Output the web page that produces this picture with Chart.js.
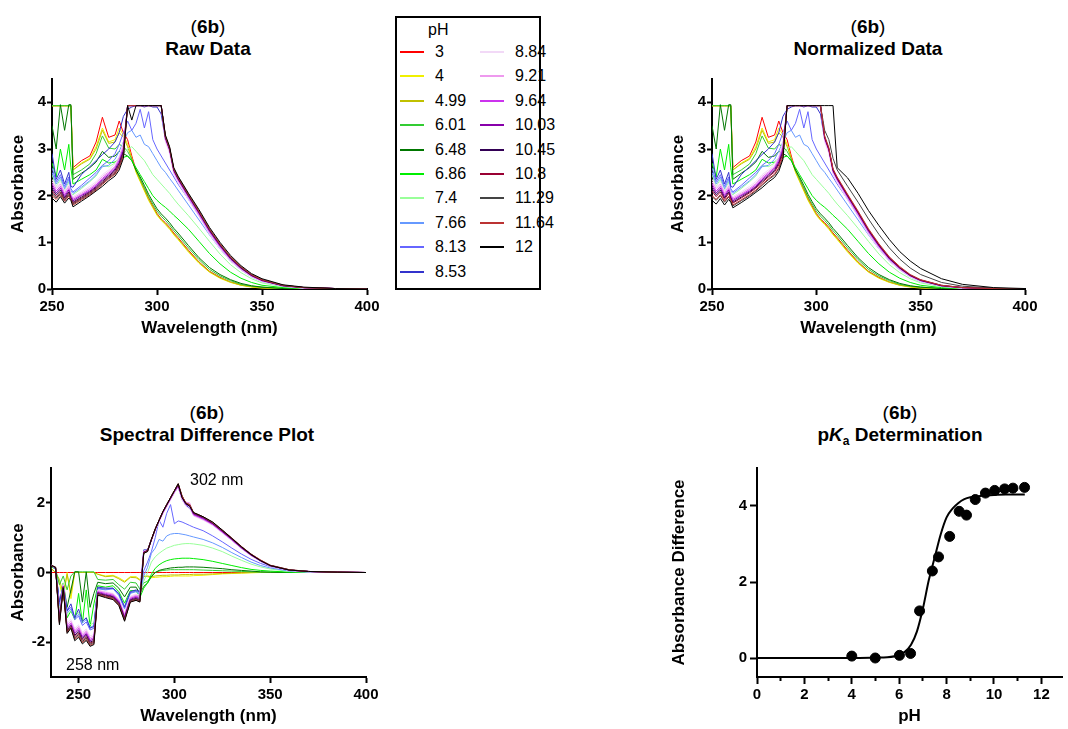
<!DOCTYPE html>
<html>
<head>
<meta charset="utf-8">
<title>6b spectra</title>
<script src="https://cdn.jsdelivr.net/npm/chart.js@4.4.1/dist/chart.umd.min.js"></script>
<style>
  html, body { margin: 0; padding: 0; background: #fff; }
  body { position: relative; width: 1068px; height: 729px; overflow: hidden;
         font-family: "Liberation Sans", Arial, sans-serif; color: #000; }
  .panel { position: absolute; }
  .ttl { position: absolute; width: 320px; margin-left: -160px; text-align: center;
         font-size: 19px; line-height: 22px; font-weight: bold; white-space: nowrap; }
  .ttl .n { font-weight: normal; }
  .note { position: absolute; font-size: 16px; white-space: nowrap; line-height: 18px; }
  #legend { position: absolute; left: 395px; top: 16px; width: 142px; height: 270px;
            border: 2px solid #000; font-size: 16px; }
  .lg-row { position: absolute; height: 20px; line-height: 20px; white-space: nowrap; }
  .lg-row i { position: absolute; left: 0; top: 9px; width: 24px; height: 0; border-top: 2px solid; }
  .lg-row span { position: absolute; left: 35px; }
</style>
</head>
<body>

<div class="ttl" style="left:208px;top:16px"><span class="n">(</span>6b<span class="n">)</span><br>Raw Data</div>
<div class="ttl" style="left:868px;top:16px"><span class="n">(</span>6b<span class="n">)</span><br>Normalized Data</div>
<div class="ttl" style="left:207px;top:402px"><span class="n">(</span>6b<span class="n">)</span><br>Spectral Difference Plot</div>
<div class="ttl" style="left:900px;top:402px"><span class="n">(</span>6b<span class="n">)</span><br>p<i>K</i><span style="font-size:12px;position:relative;top:4px">a</span> Determination</div>

<div id="legend"><div class="lg-row" style="left:31px;top:2px">pH</div></div>

<canvas id="raw" class="panel" width="392" height="279" style="left:0;top:60px"></canvas>
<canvas id="norm" class="panel" width="390" height="279" style="left:660px;top:60px"></canvas>
<canvas id="diff" class="panel" width="391" height="278" style="left:0;top:449px"></canvas>
<canvas id="pka" class="panel" width="408" height="278" style="left:660px;top:449px"></canvas>

<div class="note" style="left:190px;top:471px">302 nm</div>
<div class="note" style="left:66px;top:656px">258 nm</div>

<script>
// pH series
var phLabels = ['3', '4', '4.99', '6.01', '6.48', '6.86', '7.4', '7.66', '8.13', '8.53',
                '8.84', '9.21', '9.64', '10.03', '10.45', '10.8', '11.29', '11.64', '12'];
var phColors = ['#ff0000', '#f0f000', '#c0c000', '#33cc33', '#007700', '#00ee00', '#99ff99', '#6699ff', '#6666ff', '#3333cc',
                '#f2d9f7', '#ee99ee', '#cc33ee', '#8800aa', '#330055', '#990033', '#444444', '#bb3333', '#000000'];

// wavelengths (nm) for raw / normalized spectra
var wl = [250, 252, 254, 256, 258, 259, 260, 264, 268, 271, 274, 277, 280, 282, 284,
          286, 288, 290, 292, 294, 296, 298, 300, 302, 304, 306, 308, 310,
          315, 320, 325, 330, 335, 340, 345, 350, 360, 370, 385, 400];

// raw absorbance
var raw3 = [3.93, 3.93, 3.93, 3.93, 3.93, 3.93, 2.6, 2.75, 2.85, 3.15, 3.68, 3.25, 3.3, 3.6, 3.35,
            3.2, 2.85, 2.55, 2.35, 2.15, 1.95, 1.78, 1.62, 1.5, 1.42, 1.32, 1.2, 1.1,
            0.83, 0.58, 0.38, 0.25, 0.15, 0.09, 0.05, 0.03, 0.01, 0, 0, 0];
var raw4 = [3.93, 3.93, 3.93, 3.93, 3.93, 3.93, 2.55, 2.7, 2.8, 3.05, 3.45, 3.15, 3.2, 3.45, 3.3,
            3.1, 2.8, 2.5, 2.3, 2.1, 1.9, 1.74, 1.58, 1.47, 1.38, 1.28, 1.16, 1.06,
            0.79, 0.55, 0.36, 0.23, 0.14, 0.08, 0.04, 0.02, 0.01, 0, 0, 0];
var raw499 = [3.92, 3.92, 3.92, 3.92, 3.92, 3.92, 2.55, 2.68, 2.78, 3.0, 3.4, 3.12, 3.15, 3.35, 3.25,
              3.05, 2.8, 2.52, 2.32, 2.12, 1.92, 1.76, 1.6, 1.49, 1.4, 1.3, 1.18, 1.08,
              0.81, 0.57, 0.37, 0.24, 0.15, 0.08, 0.05, 0.03, 0.01, 0, 0, 0];
var raw601 = [3.93, 3.93, 3.93, 3.93, 3.93, 3.93, 2.45, 2.55, 2.68, 2.9, 3.28, 3.02, 3.0, 3.1, 3.05,
              2.95, 2.78, 2.55, 2.36, 2.17, 1.98, 1.82, 1.67, 1.56, 1.47, 1.37, 1.25, 1.15,
              0.88, 0.63, 0.42, 0.28, 0.18, 0.1, 0.06, 0.04, 0.01, 0, 0, 0];
var raw648 = [3.5, 3.0, 3.95, 3.4, 3.95, 3.95, 2.35, 2.48, 2.6, 2.72, 2.95, 2.82, 2.85, 2.95, 2.9,
              2.85, 2.75, 2.55, 2.4, 2.22, 2.03, 1.87, 1.72, 1.61, 1.52, 1.42, 1.3, 1.2,
              0.93, 0.67, 0.46, 0.31, 0.2, 0.12, 0.07, 0.04, 0.01, 0, 0, 0];
var raw686 = [2.7, 2.4, 3.0, 2.55, 3.1, 2.6, 2.25, 2.35, 2.45, 2.55, 2.78, 2.7, 2.72, 2.8, 2.82,
              2.85, 2.75, 2.6, 2.45, 2.3, 2.15, 2.0, 1.9, 1.82, 1.75, 1.67, 1.58, 1.5,
              1.28, 1.02, 0.76, 0.54, 0.36, 0.23, 0.14, 0.08, 0.03, 0.01, 0, 0];
var raw74 = [2.45, 2.2, 2.35, 2.1, 2.3, 2.05, 2.02, 2.15, 2.3, 2.42, 2.65, 2.62, 2.7, 2.8, 2.9,
             3.0, 3.05, 2.95, 2.85, 2.75, 2.6, 2.45, 2.35, 2.25, 2.15, 2.05, 1.93, 1.82,
             1.57, 1.3, 1.02, 0.75, 0.52, 0.35, 0.22, 0.13, 0.05, 0.01, 0, 0];
var raw766 = [2.5, 2.25, 2.4, 2.15, 2.35, 2.1, 2.05, 2.18, 2.32, 2.45, 2.62, 2.65, 2.78, 2.95, 3.15,
              3.35, 3.4, 3.25, 3.3, 3.1, 3.05, 2.9, 2.75, 2.6, 2.5, 2.37, 2.25, 2.12,
              1.8, 1.48, 1.16, 0.86, 0.6, 0.41, 0.26, 0.16, 0.06, 0.02, 0, 0];
var raw813 = [2.6, 2.3, 2.45, 2.2, 2.4, 2.15, 2.08, 2.22, 2.38, 2.5, 2.65, 2.75, 2.9, 3.1, 3.35,
              3.6, 3.4, 3.55, 3.85, 3.45, 3.8, 3.2, 3.0, 2.85, 2.7, 2.55, 2.4, 2.25,
              1.92, 1.57, 1.22, 0.91, 0.64, 0.43, 0.28, 0.18, 0.06, 0.02, 0.01, 0];
var raw853 = [2.9, 2.35, 2.55, 2.25, 2.5, 2.2, 2.18, 2.45, 2.62, 2.75, 2.88, 3.0, 3.15, 3.35, 3.7,
              3.85, 3.9, 3.93, 3.93, 3.9, 3.93, 3.9, 3.9, 3.75, 3.2, 3.0, 2.55, 2.35,
              1.98, 1.62, 1.25, 0.93, 0.66, 0.45, 0.3, 0.19, 0.07, 0.03, 0.01, 0];
var raw884 = [2.35, 2.2, 2.3, 2.1, 2.25, 2.05, 1.98, 2.08, 2.2, 2.3, 2.45, 2.55, 2.68, 2.85, 3.15,
              3.93, 3.93, 3.93, 3.93, 3.93, 3.93, 3.93, 3.93, 3.93, 3.15, 2.9, 2.45, 2.28,
              1.91, 1.55, 1.17, 0.86, 0.6, 0.41, 0.26, 0.16, 0.06, 0.02, 0.01, 0];
var raw921 = [2.3, 2.15, 2.25, 2.06, 2.2, 2.02, 1.95, 2.05, 2.16, 2.26, 2.41, 2.51, 2.63, 2.8, 3.08,
              3.93, 3.93, 3.93, 3.93, 3.93, 3.93, 3.93, 3.93, 3.93, 3.2, 2.95, 2.5, 2.32,
              1.95, 1.58, 1.2, 0.89, 0.62, 0.42, 0.27, 0.17, 0.07, 0.02, 0.01, 0];
var raw964 = [2.25, 2.1, 2.2, 2.02, 2.15, 2.0, 1.92, 2.02, 2.13, 2.23, 2.37, 2.48, 2.6, 2.76, 3.03,
              3.93, 3.93, 3.93, 3.93, 3.93, 3.93, 3.93, 3.93, 3.93, 3.22, 2.97, 2.52, 2.34,
              1.97, 1.61, 1.23, 0.91, 0.64, 0.44, 0.28, 0.18, 0.07, 0.03, 0.01, 0];
var raw1003 = [2.2, 2.06, 2.16, 1.98, 2.12, 1.97, 1.89, 2.0, 2.1, 2.2, 2.34, 2.45, 2.57, 2.72, 2.98,
               3.93, 3.93, 3.93, 3.93, 3.93, 3.93, 3.93, 3.93, 3.93, 3.24, 2.99, 2.54, 2.36,
               1.99, 1.63, 1.25, 0.93, 0.65, 0.45, 0.29, 0.18, 0.07, 0.03, 0.01, 0];
var raw1045 = [2.15, 2.02, 2.12, 1.95, 2.08, 1.95, 1.86, 1.97, 2.08, 2.18, 2.31, 2.42, 2.54, 2.69, 2.94,
               3.93, 3.93, 3.93, 3.93, 3.93, 3.93, 3.93, 3.93, 3.93, 3.25, 3.0, 2.55, 2.37,
               2.0, 1.64, 1.26, 0.94, 0.66, 0.45, 0.29, 0.19, 0.07, 0.03, 0.01, 0];
var raw108 = [2.1, 1.98, 2.08, 1.92, 2.05, 1.93, 1.84, 1.95, 2.06, 2.16, 2.28, 2.4, 2.51, 2.66, 2.9,
              3.93, 3.93, 3.93, 3.93, 3.93, 3.93, 3.93, 3.93, 3.93, 3.26, 3.0, 2.56, 2.38,
              2.01, 1.65, 1.27, 0.95, 0.67, 0.46, 0.3, 0.19, 0.08, 0.03, 0.01, 0];
var raw1129 = [2.05, 1.95, 2.05, 1.9, 2.02, 1.92, 1.82, 1.93, 2.04, 2.14, 2.26, 2.38, 2.48, 2.63, 2.87,
               3.93, 3.93, 3.93, 3.93, 3.93, 3.93, 3.93, 3.93, 3.93, 3.27, 3.02, 2.57, 2.39,
               2.02, 1.66, 1.28, 0.96, 0.68, 0.47, 0.31, 0.2, 0.08, 0.03, 0.01, 0];
var raw1164 = [2.0, 1.92, 2.02, 1.88, 1.99, 1.91, 1.8, 1.91, 2.02, 2.12, 2.24, 2.36, 2.46, 2.6, 2.84,
               3.93, 3.93, 3.93, 3.93, 3.93, 3.93, 3.93, 3.93, 3.93, 3.28, 3.03, 2.58, 2.4,
               2.03, 1.67, 1.29, 0.97, 0.69, 0.48, 0.31, 0.2, 0.08, 0.03, 0.01, 0];
var raw12 = [1.95, 1.86, 1.98, 1.84, 1.95, 1.9, 1.76, 1.88, 2.0, 2.1, 2.2, 2.32, 2.42, 2.55, 2.8,
             3.93, 3.62, 3.93, 3.93, 3.93, 3.93, 3.93, 3.93, 3.93, 3.3, 3.05, 2.6, 2.42,
             2.05, 1.7, 1.32, 1.0, 0.72, 0.5, 0.33, 0.22, 0.09, 0.04, 0.01, 0];

// normalized data: the two highest-pH spectra differ from the raw ones
var norm1129 = [1.98, 1.9, 2.0, 1.86, 1.97, 1.89, 1.78, 1.89, 2.0, 2.1, 2.22, 2.34, 2.44, 2.58, 2.82,
                3.93, 3.93, 3.93, 3.93, 3.93, 3.93, 3.93, 3.93, 3.93, 3.4, 3.2, 2.8, 2.55,
                2.2, 1.86, 1.5, 1.17, 0.88, 0.64, 0.45, 0.31, 0.14, 0.06, 0.02, 0];
var norm12 = [1.9, 1.82, 1.94, 1.8, 1.92, 1.86, 1.74, 1.85, 1.97, 2.07, 2.17, 2.29, 2.39, 2.52, 2.78,
              3.93, 3.93, 3.93, 3.93, 3.93, 3.93, 3.93, 3.93, 3.93, 3.93, 3.93, 3.93, 2.6,
              2.38, 2.05, 1.68, 1.36, 1.06, 0.8, 0.6, 0.44, 0.22, 0.1, 0.03, 0.01];

// wavelengths (nm) for the difference plot
var wlDiff = [236, 238, 240, 242, 244, 246, 248, 250, 252, 254, 256, 258,
              260, 264, 268, 271, 274, 277, 280, 282, 284,
              286, 288, 290, 292, 294, 296, 298, 300, 302, 304, 306, 308, 310,
              315, 320, 325, 330, 335, 340, 345, 350, 360, 370, 385, 400];

// absorbance difference vs pH 3
var diff3 = [0, 0, 0, 0, 0, 0, 0, 0, 0, 0, 0, 0,
             0, 0, 0, 0, 0, 0, 0, 0, 0,
             0, 0, 0, 0, 0, 0, 0, 0, 0, 0, 0, 0, 0,
             0, 0, 0, 0, 0, 0, 0, 0, 0, 0, 0, 0];
var diff4 = [0.1, 0.0, -0.3, -0.8, 0.0, -0.75, 0.0, 0, 0, 0, 0, 0,
             -0.05, -0.1, -0.08, -0.15, -0.25, -0.12, -0.12, -0.2, -0.1,
             -0.12, -0.15, -0.14, -0.13, -0.12, -0.12, -0.11, -0.1, -0.1, -0.1, -0.1, -0.1, -0.09,
             -0.08, -0.06, -0.04, -0.03, -0.02, -0.01, 0, 0, 0, 0, 0, 0];
var diff499 = [0.1, 0.0, -0.2, -0.6, -0.05, -0.6, 0, 0, 0, 0, 0, 0,
               -0.05, -0.12, -0.1, -0.18, -0.28, -0.14, -0.15, -0.22, -0.12,
               -0.1, -0.12, -0.1, -0.09, -0.08, -0.08, -0.07, -0.07, -0.07, -0.06, -0.06, -0.06, -0.05,
               -0.05, -0.04, -0.03, -0.02, -0.01, 0, 0, 0, 0, 0, 0, 0];
var diff601 = [0.15, 0.1, -0.35, -0.1, -0.5, -0.1, 0.02, 0.02, 0.02, 0.02, 0.02, 0.02,
               -0.2, -0.22, -0.2, -0.35, -0.48, -0.28, -0.3, -0.48, -0.3,
               -0.25, -0.1, 0.0, 0.04, 0.06, 0.07, 0.08, 0.08, 0.08, 0.08, 0.08, 0.08, 0.08,
               0.07, 0.06, 0.05, 0.04, 0.03, 0.02, 0.01, 0.01, 0, 0, 0, 0];
var diff648 = [0.2, 0.1, -0.9, -0.3, -1.0, -0.5, 0.02, 0.02, -0.85, 0.02, -1.0, -0.6,
               -0.28, -0.32, -0.3, -0.45, -0.7, -0.42, -0.42, -0.6, -0.4,
               -0.3, -0.12, 0.0, 0.06, 0.09, 0.11, 0.13, 0.14, 0.15, 0.15, 0.16, 0.16, 0.16,
               0.15, 0.13, 0.11, 0.08, 0.06, 0.04, 0.02, 0.01, 0, 0, 0, 0];
var diff686 = [0.2, 0.1, -1.1, -0.4, -1.3, -1.1, -1.35, -0.6, -1.45, -0.5, -1.55, -0.9,
               -0.38, -0.42, -0.38, -0.55, -0.88, -0.52, -0.52, -0.72, -0.45,
               -0.3, -0.05, 0.12, 0.22, 0.29, 0.34, 0.37, 0.39, 0.4, 0.41, 0.41, 0.41, 0.4,
               0.37, 0.32, 0.26, 0.2, 0.14, 0.09, 0.06, 0.04, 0.01, 0, 0, 0];
var diff74 = [0.2, 0.1, -1.0, -0.3, -1.2, -1.1, -1.25, -1.15, -1.4, -1.3, -1.5, -1.45,
              -0.45, -0.48, -0.45, -0.62, -1.0, -0.57, -0.55, -0.66, -0.25,
              0.0, 0.3, 0.45, 0.55, 0.63, 0.7, 0.74, 0.78, 0.8, 0.82, 0.83, 0.83, 0.82,
              0.78, 0.7, 0.6, 0.47, 0.35, 0.24, 0.16, 0.1, 0.03, 0.01, 0, 0];
var diff766 = [0.2, 0.1, -0.95, -0.35, -1.15, -1.05, -1.3, -1.2, -1.45, -1.35, -1.58, -1.52,
               -0.47, -0.5, -0.47, -0.66, -1.05, -0.6, -0.55, -0.63, -0.1,
               0.15, 0.55, 0.7, 0.95, 0.9, 1.05, 1.1, 1.12, 1.12, 1.1, 1.08, 1.05, 1.02,
               0.95, 0.85, 0.72, 0.57, 0.43, 0.3, 0.2, 0.13, 0.04, 0.01, 0, 0];
var diff813 = [0.2, 0.1, -0.9, -0.4, -1.1, -1.0, -1.35, -1.25, -1.52, -1.42, -1.65, -1.6,
               -0.45, -0.48, -0.45, -0.63, -1.02, -0.58, -0.53, -0.58, 0.05,
               0.3, 0.6, 1.0, 1.5, 1.3, 1.7, 1.95, 1.4, 1.48, 1.45, 1.4, 1.35, 1.3,
               1.2, 1.05, 0.88, 0.7, 0.53, 0.38, 0.26, 0.17, 0.06, 0.02, 0, 0];
var diff853 = [0.2, 0.1, -0.85, -0.4, -1.1, -0.9, -1.3, -1.05, -1.4, -1.3, -1.6, -1.55,
               -0.42, -0.45, -0.45, -0.6, -0.98, -0.55, -0.5, -0.55, 0.65,
               0.65, 0.95, 1.22, 1.48, 1.72, 1.92, 2.1, 2.3, 2.45, 2.1, 1.92, 1.85, 1.65,
               1.53, 1.37, 1.15, 0.92, 0.69, 0.49, 0.32, 0.19, 0.07, 0.03, 0.01, 0];
var diff884 = [0.2, 0.12, -1.2, -0.35, -1.45, -1.35, -1.6, -1.5, -1.72, -1.62, -1.82, -1.78,
               -0.5, -0.55, -0.6, -0.75, -1.15, -0.68, -0.62, -0.65, 0.62,
               0.6, 0.9, 1.2, 1.45, 1.68, 1.88, 2.08, 2.28, 2.45, 2.08, 1.9, 1.82, 1.62,
               1.5, 1.35, 1.13, 0.91, 0.68, 0.48, 0.32, 0.18, 0.06, 0.02, 0.01, 0];
var diff921 = [0.2, 0.12, -1.25, -0.37, -1.5, -1.4, -1.65, -1.55, -1.77, -1.67, -1.87, -1.83,
               -0.52, -0.57, -0.62, -0.78, -1.2, -0.71, -0.65, -0.68, 0.6,
               0.6, 0.92, 1.22, 1.47, 1.7, 1.9, 2.1, 2.3, 2.47, 2.1, 2.02, 2.0, 1.64,
               1.52, 1.37, 1.15, 0.93, 0.7, 0.49, 0.33, 0.19, 0.06, 0.02, 0.01, 0];
var diff964 = [0.2, 0.13, -1.3, -0.39, -1.55, -1.45, -1.7, -1.6, -1.82, -1.72, -1.92, -1.87,
               -0.55, -0.6, -0.65, -0.81, -1.25, -0.74, -0.68, -0.72, 0.6,
               0.62, 0.93, 1.23, 1.48, 1.72, 1.92, 2.12, 2.32, 2.48, 2.14, 1.95, 1.9, 1.66,
               1.54, 1.38, 1.16, 0.94, 0.7, 0.5, 0.33, 0.19, 0.07, 0.03, 0.01, 0];
var diff1003 = [0.2, 0.13, -1.35, -0.4, -1.6, -1.5, -1.75, -1.65, -1.86, -1.76, -1.96, -1.91,
                -0.57, -0.63, -0.68, -0.84, -1.28, -0.77, -0.71, -0.75, 0.59,
                0.63, 0.94, 1.24, 1.49, 1.73, 1.93, 2.13, 2.33, 2.5, 2.16, 1.96, 1.92, 1.68,
                1.56, 1.4, 1.18, 0.95, 0.71, 0.5, 0.34, 0.2, 0.07, 0.03, 0.01, 0];
var diff1045 = [0.2, 0.14, -1.4, -0.42, -1.65, -1.52, -1.8, -1.7, -1.9, -1.8, -2.0, -1.95,
                -0.6, -0.65, -0.7, -0.87, -1.31, -0.79, -0.74, -0.78, 0.58,
                0.63, 0.94, 1.24, 1.5, 1.74, 1.94, 2.14, 2.34, 2.52, 2.18, 1.98, 1.93, 1.7,
                1.58, 1.41, 1.19, 0.96, 0.72, 0.51, 0.34, 0.2, 0.07, 0.03, 0.01, 0];
var diff108 = [0.2, 0.14, -1.42, -0.43, -1.68, -1.55, -1.84, -1.74, -1.94, -1.84, -2.03, -1.98,
               -0.61, -0.67, -0.72, -0.89, -1.34, -0.81, -0.76, -0.8, 0.57,
               0.64, 0.95, 1.25, 1.5, 1.75, 1.95, 2.15, 2.35, 2.53, 2.19, 1.98, 1.94, 1.71,
               1.59, 1.42, 1.2, 0.97, 0.73, 0.52, 0.35, 0.2, 0.07, 0.03, 0.01, 0];
var diff1129 = [0.2, 0.15, -1.45, -0.44, -1.7, -1.57, -1.88, -1.78, -1.98, -1.88, -2.06, -2.01,
                -0.62, -0.69, -0.74, -0.91, -1.36, -0.82, -0.77, -0.82, 0.56,
                0.62, 0.95, 1.25, 1.5, 1.75, 1.95, 2.15, 2.35, 2.54, 2.2, 1.99, 1.95, 1.72,
                1.6, 1.43, 1.21, 0.98, 0.74, 0.53, 0.35, 0.21, 0.08, 0.03, 0.01, 0];
var diff1164 = [0.2, 0.15, -1.47, -0.45, -1.72, -1.58, -1.92, -1.82, -2.01, -1.92, -2.09, -2.04,
                -0.64, -0.7, -0.76, -0.93, -1.38, -0.84, -0.79, -0.84, 0.55,
                0.61, 0.95, 1.25, 1.5, 1.75, 1.95, 2.15, 2.35, 2.55, 2.2, 2.0, 1.95, 1.72,
                1.6, 1.44, 1.22, 0.99, 0.75, 0.53, 0.36, 0.21, 0.08, 0.03, 0.01, 0];
var diff12 = [0.2, 0.15, -1.5, -0.45, -1.75, -1.6, -1.96, -1.86, -2.05, -1.95, -2.12, -2.07,
              -0.65, -0.72, -0.78, -0.95, -1.4, -0.85, -0.8, -0.85, 0.55,
              0.6, 0.95, 1.25, 1.5, 1.75, 1.95, 2.15, 2.35, 2.55, 2.15, 1.98, 1.9, 1.72,
              1.6, 1.45, 1.22, 0.98, 0.74, 0.52, 0.34, 0.2, 0.07, 0.03, 0.01, 0];

// pKa determination: measured points and fitted curve
var pkaPH = [4, 4.99, 6.01, 6.48, 6.86, 7.4, 7.66, 8.13, 8.53, 8.84, 9.21, 9.64, 10.03, 10.45, 10.8, 11.29];
var pkaDiff = [0.05, 0.0, 0.07, 0.12, 1.24, 2.29, 2.66, 3.2, 3.86, 3.76, 4.17, 4.34, 4.41, 4.45, 4.47, 4.49];
var fitPH = [0, 2, 4, 5, 5.5, 6, 6.25, 6.5, 6.75, 7, 7.25, 7.5, 7.75, 8, 8.25, 8.5, 8.75, 9, 9.5, 10, 10.5, 11.3];
var fitDiff = [0, 0, 0, 0.01, 0.02, 0.08, 0.17, 0.35, 0.7, 1.3, 2.05, 2.65, 3.25, 3.7, 3.93, 4.08, 4.18, 4.23, 4.27, 4.29, 4.3, 4.3];

// tick labels
var wlTicks = [250, 300, 350, 400];
var absTicks = [0, 1, 2, 3, 4];
var diffTicks = [-2, 0, 2];
var phTicks = [0, 1, 2, 3, 4, 5, 6, 7, 8, 9, 10, 11, 12];
var pkaTicks = [0, 2, 4];

var rawSpectra = [raw3, raw4, raw499, raw601, raw648, raw686, raw74, raw766, raw813, raw853,
                  raw884, raw921, raw964, raw1003, raw1045, raw108, raw1129, raw1164, raw12];
var normSpectra = [raw3, raw4, raw499, raw601, raw648, raw686, raw74, raw766, raw813, raw853,
                   raw884, raw921, raw964, raw1003, raw1045, raw108, norm1129, raw1164, norm12];
var diffSpectra = [diff3, diff4, diff499, diff601, diff648, diff686, diff74, diff766, diff813, diff853,
                   diff884, diff921, diff964, diff1003, diff1045, diff108, diff1129, diff1164, diff12];

var FONT = '"Liberation Sans", Arial, sans-serif';

function spectrumSets(xs, series) {
    return series.map(function (ys, i) {
        return {
            label: phLabels[i],
            data: xs.map(function (x, j) { return {x: x, y: ys[j]}; }),
            borderColor: phColors[i],
            borderWidth: 1,
            pointRadius: 0,
            showLine: true,
            fill: false,
            order: series.length - i
        };
    });
}

function axis(o) {
    return {
        type: 'linear',
        min: o.min,
        max: o.max,
        afterBuildTicks: function (s) { s.ticks = o.ticks.map(function (v) { return {value: v}; }); },
        afterFit: function (s) {
            if (o.width) s.width = o.width;
            if (o.height) s.height = o.height;
        },
        border: {display: true, color: '#000', width: 2},
        grid: {display: true, drawOnChartArea: false, drawTicks: true, tickLength: o.tickLength,
               tickColor: '#000', tickWidth: 2,
               // minor ticks (no label) are drawn shorter
               tickBorderDash: function (c) { return o.minor && c.tick && c.tick.value % 2 !== 0 ? [3, 20] : []; }},
        ticks: {color: '#000', font: {family: FONT, size: 15, weight: 'bold'}, padding: o.tickPad,
                autoSkip: false, maxRotation: 0,
                callback: o.cb || function (v) { return v; }},
        title: {display: true, text: o.title, color: '#000',
                font: {family: FONT, size: 17, weight: 'bold'}, padding: o.titlePad}
    };
}

function options(pad, x, y) {
    return {
        responsive: false,
        animation: false,
        events: [],
        layout: {padding: pad},
        plugins: {legend: {display: false}, tooltip: {enabled: false}},
        scales: {x: x, y: y}
    };
}

function wlAxis(min) {
    return axis({min: min, max: 400, ticks: wlTicks, title: 'Wavelength (nm)', height: 50,
                 tickLength: 6, tickPad: 3, titlePad: {top: 0, bottom: 0}});
}

new Chart(document.getElementById('raw'), {
    type: 'scatter',
    data: {datasets: spectrumSets(wl, rawSpectra)},
    options: options({top: 19, right: 25, bottom: 0, left: 0}, wlAxis(250),
        axis({min: 0, max: 4.5, ticks: absTicks, title: 'Absorbance', width: 52,
              tickLength: 5, tickPad: 1, titlePad: {top: 8, bottom: 0}}))
});

new Chart(document.getElementById('norm'), {
    type: 'scatter',
    data: {datasets: spectrumSets(wl, normSpectra)},
    options: options({top: 19, right: 25, bottom: 0, left: 0}, wlAxis(250),
        axis({min: 0, max: 4.5, ticks: absTicks, title: 'Absorbance', width: 52,
              tickLength: 5, tickPad: 1, titlePad: {top: 8, bottom: 0}}))
});

new Chart(document.getElementById('diff'), {
    type: 'scatter',
    data: {datasets: spectrumSets(wlDiff, diffSpectra)},
    options: options({top: 19, right: 25, bottom: 0, left: 0}, wlAxis(235.6),
        axis({min: -3, max: 3, ticks: diffTicks, title: 'Absorbance', width: 51,
              tickLength: 5, tickPad: 1, titlePad: {top: 8, bottom: 0}}))
});

new Chart(document.getElementById('pka'), {
    type: 'scatter',
    data: {
        datasets: [{
            label: 'data',
            data: pkaPH.map(function (x, i) { return {x: x, y: pkaDiff[i]}; }),
            backgroundColor: '#000',
            borderColor: '#000',
            pointRadius: 5,
            showLine: false
        }, {
            label: 'fit',
            data: fitPH.map(function (x, i) { return {x: x, y: fitDiff[i]}; }),
            borderColor: '#000',
            borderWidth: 2,
            pointRadius: 0,
            showLine: true,
            cubicInterpolationMode: 'monotone'
        }]
    },
    options: options({top: 19, right: 0, bottom: 0, left: 0},
        axis({min: 0, max: 12.87, ticks: phTicks, title: 'pH', height: 50, minor: true,
              tickLength: 7, tickPad: 2, titlePad: {top: 0, bottom: 0},
              cb: function (v) { return v % 2 === 0 ? v : ''; }}),
        axis({min: -0.5, max: 5, ticks: pkaTicks, title: 'Absorbance Difference', width: 97,
              tickLength: 7, tickPad: 3, titlePad: {top: 9, bottom: 0}}))
});

// legend box
var legendBox = document.getElementById('legend');
phLabels.forEach(function (lab, i) {
    var col = i < 10 ? 0 : 1;
    var row = i < 10 ? i : i - 10;
    var div = document.createElement('div');
    div.className = 'lg-row';
    div.style.left = (col ? 83 : 3) + 'px';
    div.style.top = (24 + row * 24.4) + 'px';
    div.innerHTML = '<i style="border-color:' + phColors[i] + '"></i><span>' + lab + '</span>';
    legendBox.appendChild(div);
});
</script>
</body>
</html>
